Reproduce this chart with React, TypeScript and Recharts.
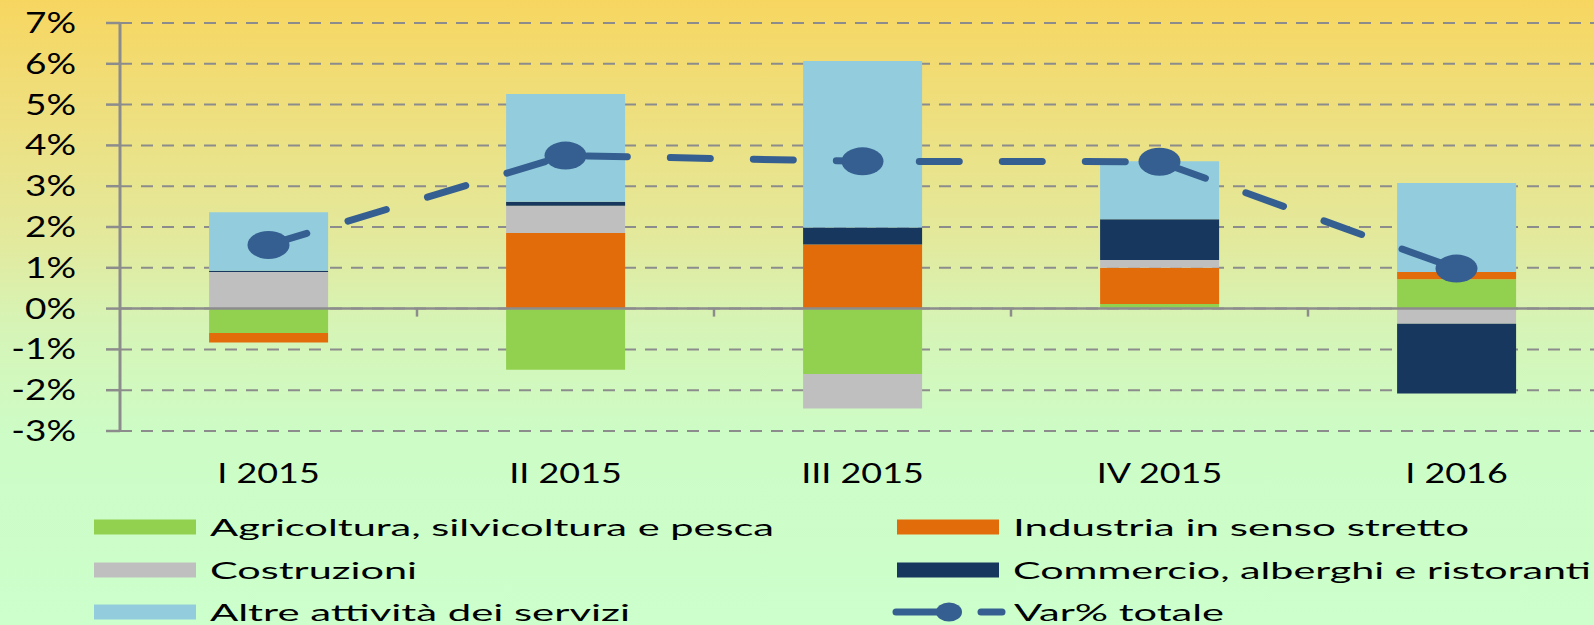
import React from "react";
import {
  ComposedChart,
  Bar,
  Line,
  XAxis,
  YAxis,
  CartesianGrid,
  ReferenceLine,
} from "recharts";

const categories = ["I 2015", "II 2015", "III 2015", "IV 2015", "I 2016"];
const agricoltura = [-0.6, -1.5, -1.6, 0.11, 0.72];
const industria = [-0.23, 1.85, 1.57, 0.89, 0.18];
const costruzioni = [0.9, 0.67, -0.85, 0.19, -0.37];
const commercio = [0.03, 0.1, 0.42, 1.0, -1.71];
const altre = [1.43, 2.64, 4.08, 1.42, 2.18];
const totale = [1.56, 3.75, 3.61, 3.6, 0.98];
const yTicks = [-3, -2, -1, 0, 1, 2, 3, 4, 5, 6, 7];

const series = [
  { key: "agri", name: "Agricoltura, silvicoltura e pesca", color: "#92D050", values: agricoltura },
  { key: "ind", name: "Industria in senso stretto", color: "#E36C0A", values: industria },
  { key: "costr", name: "Costruzioni", color: "#BFBFBF", values: costruzioni },
  { key: "comm", name: "Commercio, alberghi e ristoranti", color: "#17375E", values: commercio },
  { key: "altre", name: "Altre attività dei servizi", color: "#93CDDD", values: altre },
];
const lineName = "Var% totale";
const lineColor = "#365F91";

const data = categories.map((c, i) => {
  const row: any = { cat: c, tot: totale[i] };
  series.forEach((s) => (row[s.key] = s.values[i]));
  return row;
});

const FONT = "Lato, 'Open Sans', sans-serif";

const YTick = (props: any) => {
  const { x, y, payload } = props;
  return (
    <g transform={`translate(${x},${y})`}>
      <text
        transform="scale(1.32,1)"
        textAnchor="end"
        dy="0.36em"
        fontFamily={FONT}
        fontSize={28}
        fill="#000"
      >
        {`${payload.value}%`}
      </text>
    </g>
  );
};

const XTick = (props: any) => {
  const { x, y, payload } = props;
  return (
    <g transform={`translate(${x},${y + 52})`}>
      <text
        transform="scale(1.38,1)"
        textAnchor="middle"
        fontFamily={FONT}
        fontSize={26}
        fill="#000"
      >
        {payload.value}
      </text>
    </g>
  );
};

const ZeroLine = (props: any) => {
  const { x1, x2, y1 } = props;
  const n = categories.length;
  const step = (x2 - x1) / n;
  const ticks = [];
  for (let k = 1; k < n; k++) {
    const tx = x1 + k * step;
    ticks.push(<line key={k} x1={tx} x2={tx} y1={y1} y2={y1 + 8} stroke="#8c8c8c" strokeWidth={2.5} />);
  }
  return (
    <g>
      <line x1={x1} x2={x2} y1={y1} y2={y1} stroke="#8c8c8c" strokeWidth={2.5} />
      {ticks}
    </g>
  );
};

const Dot = (props: any) => {
  const { cx, cy, index } = props;
  if (cx == null || cy == null) return <g key={index} />;
  return <ellipse key={index} cx={cx} cy={cy} rx={21} ry={14} fill={lineColor} />;
};

const legendLayout = [
  { col: 0, row: 0, width: 564 },
  { col: 1, row: 0, width: 456 },
  { col: 0, row: 1, width: 207 },
  { col: 1, row: 1, width: 578 },
  { col: 0, row: 2, width: 420 },
];
const rowY = [527, 570, 612];
const colX = [94, 897];

const Legend2 = () => (
  <svg
    width={1594}
    height={625}
    style={{ position: "absolute", left: 0, top: 0, pointerEvents: "none" }}
  >
    {series.map((s, i) => {
      const l = legendLayout[i];
      const cy = rowY[l.row];
      const sx = colX[l.col];
      return (
        <g key={s.key}>
          <rect x={sx} y={cy - 7.5} width={102} height={15} fill={s.color} />
          <text
            x={sx + 116}
            y={cy + 9}
            fontFamily={FONT}
            fontSize={24}
            fill="#000"
            textLength={l.width}
            lengthAdjust="spacingAndGlyphs"
          >
            {s.name}
          </text>
        </g>
      );
    })}
    <g>
      <line x1={896} x2={940} y1={rowY[2]} y2={rowY[2]} stroke={lineColor} strokeWidth={7} strokeLinecap="round" />
      <ellipse cx={949} cy={rowY[2]} rx={13} ry={9.5} fill={lineColor} />
      <line x1={981} x2={1002} y1={rowY[2]} y2={rowY[2]} stroke={lineColor} strokeWidth={7} strokeLinecap="round" />
      <text
        x={1014}
        y={rowY[2] + 9}
        fontFamily={FONT}
        fontSize={24}
        fill="#000"
        textLength={210}
        lengthAdjust="spacingAndGlyphs"
      >
        {lineName}
      </text>
    </g>
  </svg>
);

export default function App() {
  return (
    <div
      style={{
        position: "absolute",
        left: 0,
        top: 0,
        width: 1594,
        height: 625,
        overflow: "hidden",
        background:
          "linear-gradient(to bottom, #F7D660 0%, #EEDF7E 18%, #E3E99C 38%, #D6F4B6 52%, #CDFCC6 70%, #CCFFCC 100%)",
      }}
    >
      <ComposedChart
        width={1605}
        height={625}
        data={data}
        stackOffset="sign"
        barCategoryGap="30%"
        margin={{ top: 23, right: 0, bottom: 134, left: 0 }}
      >
        <CartesianGrid
          vertical={false}
          stroke="#8c8c8c"
          strokeWidth={2}
          strokeDasharray="12 9"
        />
        <XAxis
          dataKey="cat"
          axisLine={false}
          tickLine={false}
          tickSize={0}
          tickMargin={0}
          height={60}
          interval={0}
          tick={<XTick />}
        />
        <YAxis
          type="number"
          domain={[-3, 7]}
          ticks={yTicks}
          interval={0}
          width={120}
          axisLine={{ stroke: "#8c8c8c", strokeWidth: 3 }}
          tickLine={{ stroke: "#8c8c8c", strokeWidth: 2.5 }}
          tickSize={14}
          tickMargin={30}
          tick={<YTick />}
        />
        {series.map((s) => (
          <Bar
            key={s.key}
            dataKey={s.key}
            name={s.name}
            stackId="a"
            fill={s.color}
            isAnimationActive={false}
          />
        ))}
        <ReferenceLine y={0} shape={<ZeroLine />} />
        <Line
          dataKey="tot"
          name={lineName}
          stroke={lineColor}
          strokeWidth={7}
          strokeDasharray="40 43"
          strokeLinecap="round"
          dot={Dot}
          activeDot={false}
          isAnimationActive={false}
        />
      </ComposedChart>
      <Legend2 />
    </div>
  );
}
